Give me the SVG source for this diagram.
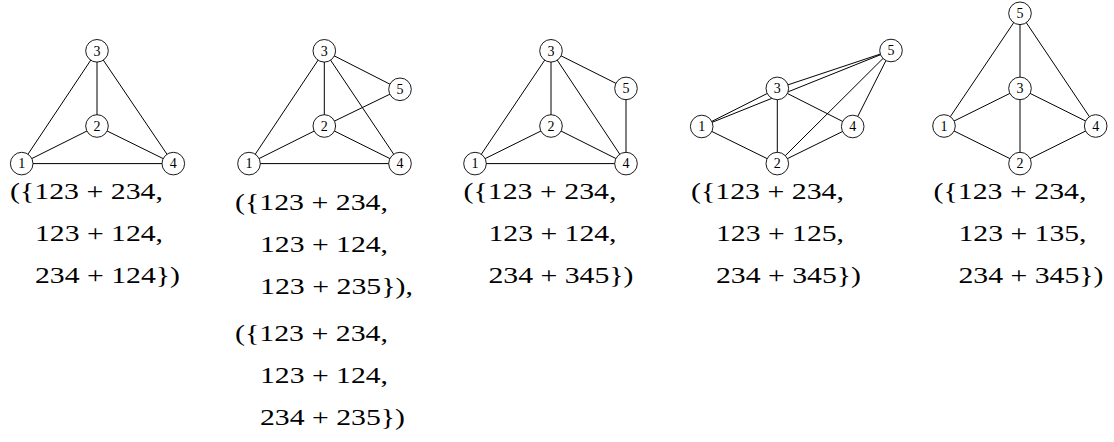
<svg xmlns="http://www.w3.org/2000/svg" width="1114" height="442" viewBox="0 0 1114 442">
<style>
.e{stroke:#000;stroke-width:1;fill:none}
.n circle{fill:#fff;stroke:#000;stroke-width:0.9}
.n text{font-family:"Liberation Serif",serif;font-size:14px;text-anchor:middle;fill:#000}
.t{font-family:"Liberation Serif",serif;font-size:23.5px;fill:#000}
</style>
<rect width="1114" height="442" fill="#fff"/>
<g id="connectors">
<!-- graph 1 -->
<line class="e" x1="21.7" y1="163.6" x2="97" y2="50.8"/>
<line class="e" x1="97" y1="50.8" x2="173.3" y2="163.6"/>
<line class="e" x1="97" y1="50.8" x2="97" y2="126"/>
<line class="e" x1="21.7" y1="163.6" x2="97" y2="126"/>
<line class="e" x1="97" y1="126" x2="173.3" y2="163.6"/>
<line class="e" x1="21.7" y1="163.6" x2="173.3" y2="163.6"/>
<!-- graph 2 -->
<line class="e" x1="249" y1="163.6" x2="324.3" y2="50.8"/>
<line class="e" x1="324.3" y1="50.8" x2="324.3" y2="126"/>
<line class="e" x1="324.3" y1="50.8" x2="400" y2="89.3"/>
<line class="e" x1="324.3" y1="50.8" x2="400" y2="163.6"/>
<line class="e" x1="324.3" y1="126" x2="400" y2="89.3"/>
<line class="e" x1="249" y1="163.6" x2="324.3" y2="126"/>
<line class="e" x1="324.3" y1="126" x2="400" y2="163.6"/>
<line class="e" x1="249" y1="163.6" x2="400" y2="163.6"/>
<!-- graph 3 -->
<line class="e" x1="475" y1="163.6" x2="551" y2="50.8"/>
<line class="e" x1="551" y1="50.8" x2="551" y2="126"/>
<line class="e" x1="551" y1="50.8" x2="626" y2="88.4"/>
<line class="e" x1="551" y1="50.8" x2="626" y2="163.6"/>
<line class="e" x1="626" y1="88.4" x2="626" y2="163.6"/>
<line class="e" x1="475" y1="163.6" x2="551" y2="126"/>
<line class="e" x1="551" y1="126" x2="626" y2="163.6"/>
<line class="e" x1="475" y1="163.6" x2="626" y2="163.6"/>
<!-- graph 4 -->
<line class="e" x1="701.7" y1="126.5" x2="777.3" y2="88.4"/>
<line class="e" x1="701.7" y1="126.5" x2="891" y2="50.5"/>
<line class="e" x1="777.3" y1="88.4" x2="891" y2="50.5"/>
<line class="e" x1="777.3" y1="88.4" x2="777.3" y2="163.6"/>
<line class="e" x1="777.3" y1="88.4" x2="852.7" y2="126.5"/>
<line class="e" x1="701.7" y1="126.5" x2="777.3" y2="163.6"/>
<line class="e" x1="777.3" y1="163.6" x2="852.7" y2="126.5"/>
<line class="e" x1="777.3" y1="163.6" x2="891" y2="50.5"/>
<line class="e" x1="852.7" y1="126.5" x2="891" y2="50.5"/>
<!-- graph 5 -->
<line class="e" x1="944" y1="126" x2="1020" y2="13.3"/>
<line class="e" x1="1020" y1="13.3" x2="1020" y2="88.4"/>
<line class="e" x1="1020" y1="13.3" x2="1095.7" y2="126"/>
<line class="e" x1="944" y1="126" x2="1020" y2="88.4"/>
<line class="e" x1="1020" y1="88.4" x2="1095.7" y2="126"/>
<line class="e" x1="1020" y1="88.4" x2="1020" y2="163.6"/>
<line class="e" x1="944" y1="126" x2="1020" y2="163.6"/>
<line class="e" x1="1020" y1="163.6" x2="1095.7" y2="126"/>
</g>
<!-- graph 1 nodes -->
<g id="g1-n1" class="n"><circle cx="21.7" cy="163.6" r="11.3"/><text x="21.7" y="168.3">1</text></g>
<g id="g1-n2" class="n"><circle cx="97" cy="126" r="11.3"/><text x="97" y="130.7">2</text></g>
<g id="g1-n3" class="n"><circle cx="97" cy="50.8" r="11.3"/><text x="97" y="55.5">3</text></g>
<g id="g1-n4" class="n"><circle cx="173.3" cy="163.6" r="11.3"/><text x="173.3" y="168.3">4</text></g>
<!-- graph 2 nodes -->
<g id="g2-n1" class="n"><circle cx="249" cy="163.6" r="11.3"/><text x="249" y="168.3">1</text></g>
<g id="g2-n2" class="n"><circle cx="324.3" cy="126" r="11.3"/><text x="324.3" y="130.7">2</text></g>
<g id="g2-n3" class="n"><circle cx="324.3" cy="50.8" r="11.3"/><text x="324.3" y="55.5">3</text></g>
<g id="g2-n4" class="n"><circle cx="400" cy="163.6" r="11.3"/><text x="400" y="168.3">4</text></g>
<g id="g2-n5" class="n"><circle cx="400" cy="89.3" r="11.3"/><text x="400" y="94">5</text></g>
<!-- graph 3 nodes -->
<g id="g3-n1" class="n"><circle cx="475" cy="163.6" r="11.3"/><text x="475" y="168.3">1</text></g>
<g id="g3-n2" class="n"><circle cx="551" cy="126" r="11.3"/><text x="551" y="130.7">2</text></g>
<g id="g3-n3" class="n"><circle cx="551" cy="50.8" r="11.3"/><text x="551" y="55.5">3</text></g>
<g id="g3-n4" class="n"><circle cx="626" cy="163.6" r="11.3"/><text x="626" y="168.3">4</text></g>
<g id="g3-n5" class="n"><circle cx="626" cy="88.4" r="11.3"/><text x="626" y="93.1">5</text></g>
<!-- graph 4 nodes -->
<g id="g4-n1" class="n"><circle cx="701.7" cy="126.5" r="11.3"/><text x="701.7" y="131.2">1</text></g>
<g id="g4-n2" class="n"><circle cx="777.3" cy="163.6" r="11.3"/><text x="777.3" y="168.3">2</text></g>
<g id="g4-n3" class="n"><circle cx="777.3" cy="88.4" r="11.3"/><text x="777.3" y="93.1">3</text></g>
<g id="g4-n4" class="n"><circle cx="852.7" cy="126.5" r="11.3"/><text x="852.7" y="131.2">4</text></g>
<g id="g4-n5" class="n"><circle cx="891" cy="50.5" r="11.3"/><text x="891" y="55.2">5</text></g>
<!-- graph 5 nodes -->
<g id="g5-n1" class="n"><circle cx="944" cy="126" r="11.3"/><text x="944" y="130.7">1</text></g>
<g id="g5-n2" class="n"><circle cx="1020" cy="163.6" r="11.3"/><text x="1020" y="168.3">2</text></g>
<g id="g5-n3" class="n"><circle cx="1020" cy="88.4" r="11.3"/><text x="1020" y="93.1">3</text></g>
<g id="g5-n4" class="n"><circle cx="1095.7" cy="126" r="11.3"/><text x="1095.7" y="130.7">4</text></g>
<g id="g5-n5" class="n"><circle cx="1020" cy="13.3" r="11.3"/><text x="1020" y="18">5</text></g>
<!-- labels -->
<g id="label1">
<text class="t" x="10" y="198.5" textLength="153" lengthAdjust="spacingAndGlyphs">({123 + 234,</text>
<text class="t" x="35" y="240.5" textLength="128" lengthAdjust="spacingAndGlyphs">123 + 124,</text>
<text class="t" x="35" y="282.5" textLength="145" lengthAdjust="spacingAndGlyphs">234 + 124})</text>
</g>
<g id="label2">
<text class="t" x="235" y="210" textLength="153" lengthAdjust="spacingAndGlyphs">({123 + 234,</text>
<text class="t" x="260" y="252" textLength="128" lengthAdjust="spacingAndGlyphs">123 + 124,</text>
<text class="t" x="260" y="294" textLength="153" lengthAdjust="spacingAndGlyphs">123 + 235}),</text>
<text class="t" x="235" y="341" textLength="153" lengthAdjust="spacingAndGlyphs">({123 + 234,</text>
<text class="t" x="260" y="383" textLength="128" lengthAdjust="spacingAndGlyphs">123 + 124,</text>
<text class="t" x="260" y="425" textLength="145" lengthAdjust="spacingAndGlyphs">234 + 235})</text>
</g>
<g id="label3">
<text class="t" x="463.5" y="198.5" textLength="153" lengthAdjust="spacingAndGlyphs">({123 + 234,</text>
<text class="t" x="488.5" y="240.5" textLength="128" lengthAdjust="spacingAndGlyphs">123 + 124,</text>
<text class="t" x="488.5" y="282.5" textLength="145" lengthAdjust="spacingAndGlyphs">234 + 345})</text>
</g>
<g id="label4">
<text class="t" x="691" y="198.5" textLength="153" lengthAdjust="spacingAndGlyphs">({123 + 234,</text>
<text class="t" x="716" y="240.5" textLength="128" lengthAdjust="spacingAndGlyphs">123 + 125,</text>
<text class="t" x="716" y="282.5" textLength="145" lengthAdjust="spacingAndGlyphs">234 + 345})</text>
</g>
<g id="label5">
<text class="t" x="933.5" y="198.5" textLength="153" lengthAdjust="spacingAndGlyphs">({123 + 234,</text>
<text class="t" x="958.5" y="240.5" textLength="128" lengthAdjust="spacingAndGlyphs">123 + 135,</text>
<text class="t" x="958.5" y="282.5" textLength="145" lengthAdjust="spacingAndGlyphs">234 + 345})</text>
</g>
</svg>
